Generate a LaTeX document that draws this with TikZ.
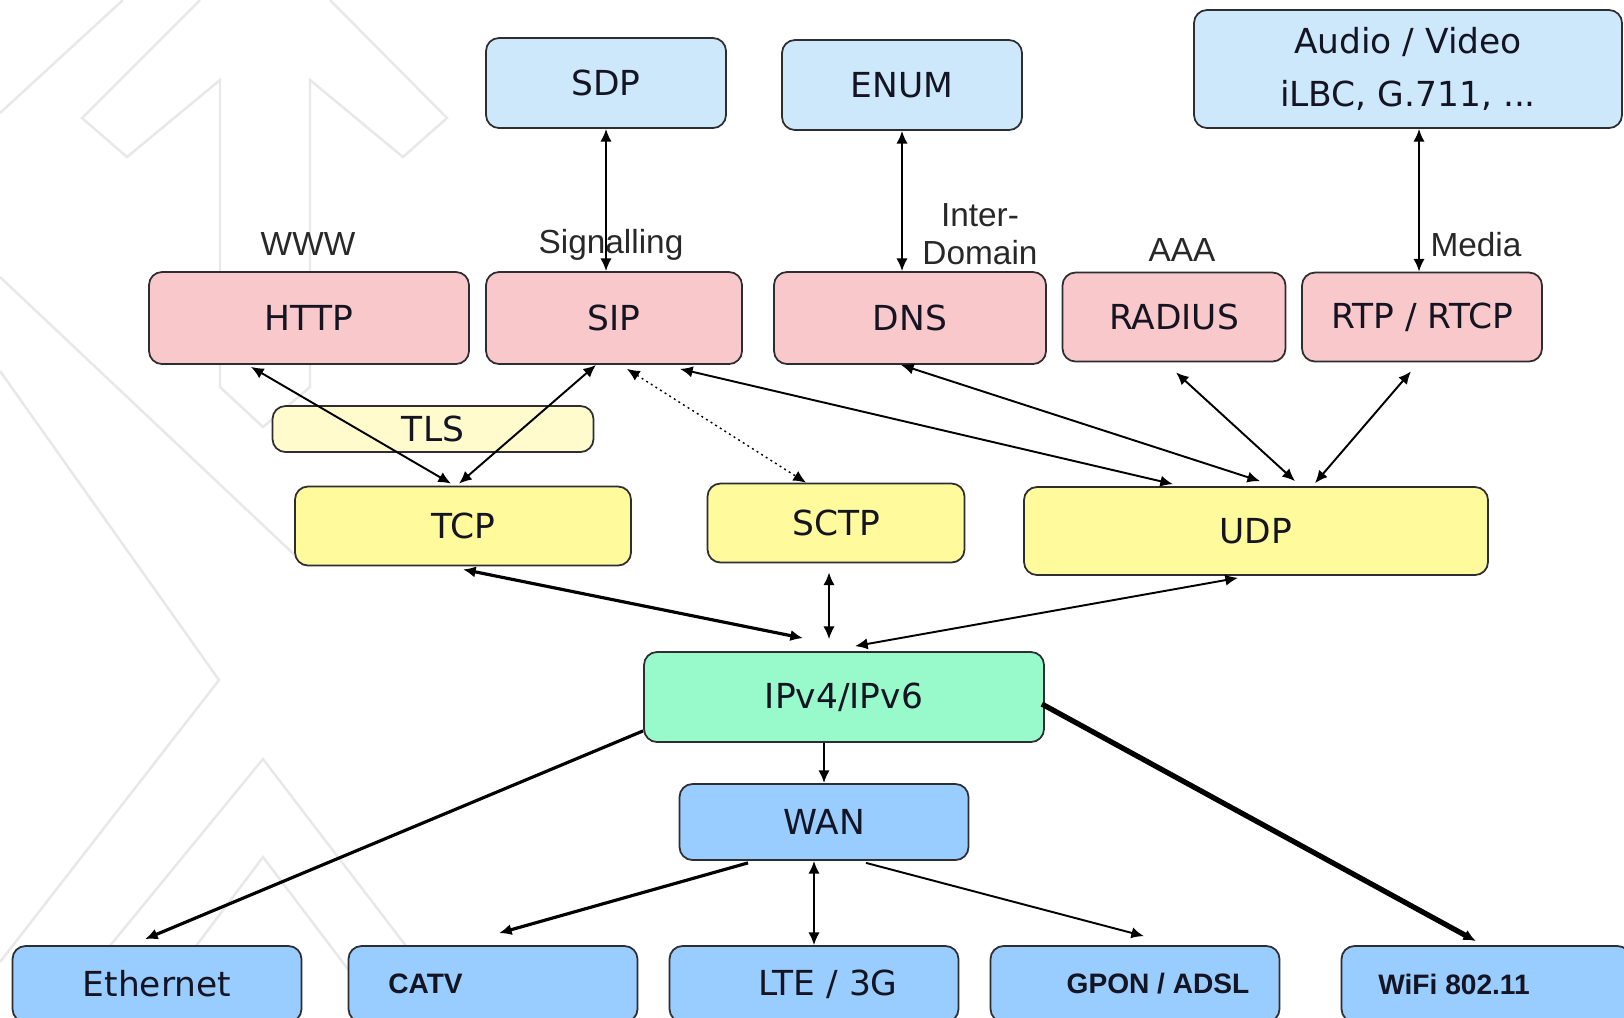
\documentclass[tikz,border=0pt]{standalone}
\usepackage{fontspec}
\setmainfont{DejaVu Sans}
\newfontfamily\notefont{Liberation Sans}
\newcommand\linkfont{\notefont\bfseries\fontsize{8}{10}\selectfont}
\usepackage{tikz}
\usetikzlibrary{arrows.meta,positioning,calc}

\definecolor{boxline}{RGB}{45,45,50}
\definecolor{textdark}{RGB}{20,20,35}
\definecolor{topblue}{RGB}{204,232,250}
\definecolor{pinkbox}{RGB}{249,200,202}
\definecolor{yellowbox}{RGB}{255,250,155}
\definecolor{tlsyellow}{RGB}{255,251,205}
\definecolor{greenbox}{RGB}{152,250,202}
\definecolor{lowblue}{RGB}{153,204,255}
\definecolor{notegray}{RGB}{40,40,40}
\definecolor{watermark}{RGB}{232,232,232}

\tikzset{
  >={Latex[length=3.6pt,width=3.2pt]},
  box/.style={draw=boxline, line width=0.5pt, rounded corners=1.3mm, inner sep=0pt,
    text=textdark, font=\fontsize{9.8}{15}\selectfont},
  topbox/.style={box, fill=topblue},
  appbox/.style={box, fill=pinkbox},
  transbox/.style={box, fill=yellowbox},
  ipbox/.style={box, fill=greenbox},
  linkbox/.style={box, fill=lowblue, minimum width=28.9mm, minimum height=7.6mm},
  note/.style={text=notegray, font=\notefont\fontsize{9.5}{10.8}\selectfont, inner sep=0pt},
  link/.style={<->, line width=0.55pt},
  oneway/.style={->, line width=0.55pt},
  bgline/.style={draw=watermark, line width=0.7pt}
}

\begin{document}
\begin{tikzpicture}[x=0.1mm,y=-0.1mm]
\clip (0,0) rectangle (1624,1017);
\fill[white] (0,0) rectangle (1624,1017);

\draw[bgline] (0,113) -- (123,0);
\draw[bgline] (200,0) -- (82,118) -- (127,157) -- (220,80) -- (220,387) -- (263,427) -- (310,387) -- (310,80) -- (403,157) -- (447,118) -- (330,0);
\draw[bgline] (0,371) -- (219,680) -- (0,962);
\draw[bgline] (0,277) -- (300,560);
\draw[bgline] (0,1080) -- (263,759) -- (520,1095);
\draw[bgline] (114,1055) -- (263,857) -- (413,1055);
\draw[bgline] (225,1006) -- (225,1017);
\draw[bgline] (300,1006) -- (300,1017);

\node[topbox, minimum width=24mm, minimum height=9mm] (sdp) at (606,83) {SDP};
\node[topbox, minimum width=24mm, minimum height=9mm] (enum) at (902,85) {ENUM};
\node[topbox, minimum width=42.8mm, minimum height=11.8mm, align=center] (media) at (1408,69) {Audio / Video\\iLBC, G.711, ...};

\node[appbox, minimum width=32mm, minimum height=9.2mm] (http) at (309,318) {HTTP};
\node[appbox, minimum width=25.6mm, minimum height=9.2mm] (sip) at (614,318) {SIP};
\node[appbox, minimum width=27.2mm, minimum height=9.2mm] (dns) at (910,318) {DNS};
\node[appbox, minimum width=22.3mm, minimum height=8.9mm] (radius) at (1174,317) {RADIUS};
\node[appbox, minimum width=24mm, minimum height=8.9mm] (rtp) at (1422,317) {RTP / RTCP};

\node[note] (www) at (308,244) {WWW};
\node[note] (signalling) at (611,245) {Signalling};
\node[note, align=center] (interdomain) at (980,234) {Inter-\\Domain};
\node[note] (aaa) at (1182,250) {AAA};
\node[note] (medialbl) at (1476,245) {Media};

\node[box, fill=tlsyellow, minimum width=32.1mm, minimum height=4.6mm] (tls) at (433,429) {TLS};
\node[transbox, minimum width=33.6mm, minimum height=7.9mm] (tcp) at (463,526) {TCP};
\node[transbox, minimum width=25.7mm, minimum height=7.9mm] (sctp) at (836,523) {SCTP};
\node[transbox, minimum width=46.4mm, minimum height=8.8mm] (udp) at (1256,531) {UDP};

\node[ipbox, minimum width=40mm, minimum height=9mm] (ip) at (844,697) {IPv4/IPv6};
\node[linkbox] (wan) at (824,822) {WAN};

\node[linkbox] (eth) at (157,984) {Ethernet};
\node[linkbox] (catv) at (493,984) {\linkfont CATV\hspace{13.5mm}\null};
\node[linkbox] (lte) at (814,984) {\hspace{2.8mm}LTE / 3G};
\node[linkbox] (gpon) at (1135,984) {\linkfont\hspace{4.6mm}GPON / ADSL};
\node[linkbox] (wifi) at (1486,984) {\linkfont WiFi 802.11\hspace{6.4mm}\null};

\coordinate (rtptop) at ($(rtp.north)+(-3,0)$);

\draw[link] (sdp.south) -- (sdp.south |- sip.north);
\draw[link] (enum.south) -- (enum.south |- dns.north);
\draw[link] (rtptop |- media.south) -- (rtptop);

\draw[link] ($(http.south)+(-58,2)$) -- ($(tcp.north)+(-12,-2)$);
\draw[link] ($(sip.south)+(-18,0)$) -- ($(tcp.north)+(-4,-2)$);
\draw[link, densely dotted, line width=0.4pt] ($(sip.south)+(13,4)$) -- ($(sctp.north)+(-30,0)$);
\draw[link] ($(sip.south)+(66,4)$) -- ($(udp.north)+(-83,-2)$);
\draw[link] ($(dns.south)+(-9,0)$) -- ($(udp.north)+(4,-5)$);
\draw[link] ($(radius.south)+(2,10)$) -- ($(udp.north)+(39,-5)$);
\draw[link] ($(rtp.south)+(-11,9)$) -- ($(udp.north)+(59,-3)$);

\draw[link, line width=0.9pt] ($(tcp.south)+(0,3)$) -- ($(ip.north)+(-41,-13)$);
\draw[link] ($(sctp.south)+(-7,9)$) -- ($(ip.north)+(-15,-12)$);
\draw[link] ($(udp.south)+(-18,2)$) -- ($(ip.north)+(11,-5)$);

\draw[oneway, line width=0.8pt] (wan.north |- ip.south) -- (wan.north);
\draw[oneway, line width=0.9pt] ($(ip.south west)+(0,-12)$) -- ($(eth.north)+(-12,-6)$);
\draw[oneway, line width=0.9pt] ($(wan.south)+(-76,2)$) -- ($(catv.north)+(6,-12)$);
\draw[link] (lte.north |- wan.south) -- (lte.north);
\draw[oneway] ($(wan.south)+(42,2)$) -- ($(gpon.north)+(9,-9)$);
\draw[oneway, line width=1.5pt] ($(ip.east)+(-3,7)$) -- ($(wifi.north)+(-10,-4)$);
\end{tikzpicture}
\end{document}
